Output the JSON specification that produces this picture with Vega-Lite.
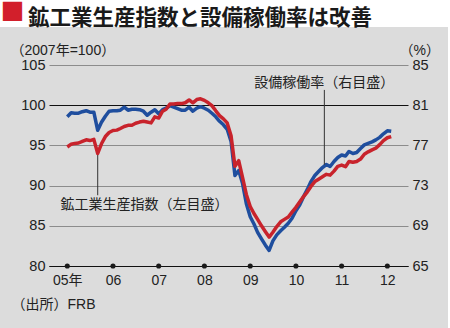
{
  "$schema": "https://vega.github.io/schema/vega-lite/v6.json",
  "width": 448,
  "height": 301,
  "autosize": {"type": "none"},
  "padding": {"left": 0, "top": 27, "right": 2, "bottom": 0},
  "background": "#ffffff",
  "config": {"view": {"fill": "#dcdcdc", "stroke": null}, "font": "Liberation Sans"},
  "title": {
    "text": "鉱工業生産指数と設備稼働率は改善",
    "anchor": "start",
    "frame": "group",
    "orient": "top",
    "dx": 28,
    "offset": -29,
    "font": "Noto Sans CJK JP",
    "fontSize": 21.5,
    "fontWeight": "bold",
    "color": "#1a1a1a"
  },
  "datasets": {
    "series": [
      {"d":"2005-01","ip":94.8,"cu":79.85},
      {"d":"2005-02","ip":95.15,"cu":80.25},
      {"d":"2005-03","ip":95.25,"cu":80.2},
      {"d":"2005-04","ip":95.3,"cu":80.2},
      {"d":"2005-05","ip":95.5,"cu":80.35},
      {"d":"2005-06","ip":95.7,"cu":80.45},
      {"d":"2005-07","ip":95.6,"cu":80.3},
      {"d":"2005-08","ip":95.75,"cu":80.3},
      {"d":"2005-09","ip":94.0,"cu":78.5},
      {"d":"2005-10","ip":95.2,"cu":79.3},
      {"d":"2005-11","ip":96.1,"cu":79.9},
      {"d":"2005-12","ip":96.6,"cu":80.4},
      {"d":"2006-01","ip":96.85,"cu":80.45},
      {"d":"2006-02","ip":96.9,"cu":80.45},
      {"d":"2006-03","ip":97.1,"cu":80.5},
      {"d":"2006-04","ip":97.35,"cu":80.8},
      {"d":"2006-05","ip":97.5,"cu":80.5},
      {"d":"2006-06","ip":97.5,"cu":80.6},
      {"d":"2006-07","ip":97.75,"cu":80.6},
      {"d":"2006-08","ip":97.9,"cu":80.55},
      {"d":"2006-09","ip":98.0,"cu":80.4},
      {"d":"2006-10","ip":97.9,"cu":80.0},
      {"d":"2006-11","ip":97.8,"cu":80.3},
      {"d":"2006-12","ip":98.55,"cu":80.55},
      {"d":"2007-01","ip":98.4,"cu":80.15},
      {"d":"2007-02","ip":99.25,"cu":80.55},
      {"d":"2007-03","ip":99.5,"cu":80.7},
      {"d":"2007-04","ip":100.15,"cu":80.95},
      {"d":"2007-05","ip":100.15,"cu":80.8},
      {"d":"2007-06","ip":100.2,"cu":80.65},
      {"d":"2007-07","ip":100.2,"cu":80.5},
      {"d":"2007-08","ip":100.3,"cu":80.5},
      {"d":"2007-09","ip":100.65,"cu":80.8},
      {"d":"2007-10","ip":100.3,"cu":80.4},
      {"d":"2007-11","ip":100.7,"cu":80.7},
      {"d":"2007-12","ip":100.8,"cu":80.85},
      {"d":"2008-01","ip":100.6,"cu":80.7},
      {"d":"2008-02","ip":100.3,"cu":80.5},
      {"d":"2008-03","ip":99.95,"cu":80.2},
      {"d":"2008-04","ip":99.3,"cu":79.85},
      {"d":"2008-05","ip":98.7,"cu":79.4},
      {"d":"2008-06","ip":98.3,"cu":79.05},
      {"d":"2008-07","ip":97.8,"cu":78.6},
      {"d":"2008-08","ip":96.2,"cu":77.4},
      {"d":"2008-09","ip":92.4,"cu":74.0},
      {"d":"2008-10","ip":93.1,"cu":74.5},
      {"d":"2008-11","ip":91.0,"cu":73.2},
      {"d":"2008-12","ip":88.9,"cu":71.2},
      {"d":"2009-01","ip":87.4,"cu":69.9},
      {"d":"2009-02","ip":86.5,"cu":69.15},
      {"d":"2009-03","ip":85.8,"cu":68.35},
      {"d":"2009-04","ip":85.0,"cu":67.7},
      {"d":"2009-05","ip":84.3,"cu":67.1},
      {"d":"2009-06","ip":83.6,"cu":66.55},
      {"d":"2009-07","ip":84.2,"cu":67.5},
      {"d":"2009-08","ip":84.9,"cu":68.1},
      {"d":"2009-09","ip":85.5,"cu":68.5},
      {"d":"2009-10","ip":85.8,"cu":68.85},
      {"d":"2009-11","ip":86.1,"cu":69.25},
      {"d":"2009-12","ip":86.7,"cu":69.75},
      {"d":"2010-01","ip":87.3,"cu":70.5},
      {"d":"2010-02","ip":88.0,"cu":71.1},
      {"d":"2010-03","ip":88.6,"cu":71.85},
      {"d":"2010-04","ip":89.2,"cu":72.6},
      {"d":"2010-05","ip":89.9,"cu":73.4},
      {"d":"2010-06","ip":90.5,"cu":74.0},
      {"d":"2010-07","ip":90.8,"cu":74.4},
      {"d":"2010-08","ip":91.1,"cu":74.8},
      {"d":"2010-09","ip":91.4,"cu":75.1},
      {"d":"2010-10","ip":91.3,"cu":74.9},
      {"d":"2010-11","ip":91.8,"cu":75.4},
      {"d":"2010-12","ip":92.4,"cu":75.8},
      {"d":"2011-01","ip":92.55,"cu":76.05},
      {"d":"2011-02","ip":92.35,"cu":75.95},
      {"d":"2011-03","ip":93.0,"cu":76.4},
      {"d":"2011-04","ip":92.9,"cu":76.2},
      {"d":"2011-05","ip":93.0,"cu":76.3},
      {"d":"2011-06","ip":93.3,"cu":76.7},
      {"d":"2011-07","ip":93.9,"cu":77.05},
      {"d":"2011-08","ip":94.2,"cu":77.2},
      {"d":"2011-09","ip":94.45,"cu":77.35},
      {"d":"2011-10","ip":94.65,"cu":77.55},
      {"d":"2011-11","ip":95.1,"cu":77.8},
      {"d":"2011-12","ip":95.6,"cu":78.15},
      {"d":"2012-01","ip":95.95,"cu":78.45},
      {"d":"2012-02","ip":96.1,"cu":78.4}
    ],
    "ticks": [
      {"d":"2005-01"},{"d":"2006-01"},{"d":"2007-01"},{"d":"2008-01"},
      {"d":"2009-01"},{"d":"2010-01"},{"d":"2011-01"},{"d":"2012-01"}
    ],
    "leaders": [
      {"d":"2010-08-16","y":101.9,"y2":92.6},
      {"d":"2005-09-01","y":93.8,"y2":88.8}
    ],
    "notes": [
      {"d":"2010-08-16","y":102.8,"t":"設備稼働率（右目盛）"},
      {"d":"2006-09-10","y":87.6,"t":"鉱工業生産指数（左目盛）"}
    ]
  },
  "layer": [
    {
      "data": {"name": "series"},
      "mark": {"type": "line", "color": "#1f4e9e", "strokeWidth": 3.5, "strokeJoin": "round"},
      "encoding": {
        "x": {
          "field": "d", "type": "temporal",
          "scale": {"domain": [{"year": 2004, "month": 8, "date": 8}, {"year": 2012, "month": 6, "date": 14}], "range": [49, 408]},
          "axis": {
            "orient": "bottom", "offset": -62,
            "values": [{"year":2005,"month":1,"date":1},{"year":2006,"month":1,"date":1},{"year":2007,"month":1,"date":1},{"year":2008,"month":1,"date":1},{"year":2009,"month":1,"date":1},{"year":2010,"month":1,"date":1},{"year":2011,"month":1,"date":1},{"year":2012,"month":1,"date":1}],
            "format": "%y",
            "labelExpr": "datum.label == '05' ? '05年' : datum.label",
            "domainColor": "#111111", "domainWidth": 1.2,
            "ticks": false, "grid": false,
            "labelPadding": 7, "labelFontSize": 14, "labelFont": "Liberation Sans, Noto Sans CJK JP", "labelColor": "#222222",
            "labelFlush": false, "labelOverlap": false, "labelBaseline": "top",
            "title": "（出所）FRB", "titleX": 11, "titleY": 38, "titleAlign": "left", "titleBaseline": "middle",
            "titleFont": "Liberation Sans, Noto Sans CJK JP", "titleFontSize": 14, "titleFontWeight": "normal", "titleColor": "#222222"
          }
        },
        "y": {
          "field": "cu", "type": "quantitative",
          "scale": {"domain": [65, 85], "range": [239, 38], "nice": false, "zero": false},
          "axis": {
            "orient": "right", "offset": -40,
            "values": [65, 69, 73, 77, 81, 85],
            "domain": false, "ticks": false, "grid": false,
            "labelPadding": 4, "labelFontSize": 14.5, "labelFont": "Liberation Sans", "labelColor": "#222222",
            "title": "（%）", "titleAngle": 0, "titleX": -9, "titleY": 23, "titleAlign": "left", "titleBaseline": "middle",
            "titleFont": "Liberation Sans, Noto Sans CJK JP", "titleFontSize": 14, "titleFontWeight": "normal", "titleColor": "#222222"
          }
        }
      }
    },
    {
      "layer": [
        {
          "data": {"name": "series"},
          "mark": {"type": "line", "color": "#c8232c", "strokeWidth": 3.5, "strokeJoin": "round"},
          "encoding": {
            "x": {
              "field": "d", "type": "temporal",
              "axis": {
                "orient": "top", "domain": false, "ticks": false, "labels": false, "grid": false,
                "title": "■", "titleColor": "#d21f2b", "titleFont": "Noto Sans CJK JP", "titleFontSize": 24, "titleFontWeight": "normal",
                "titleX": 0, "titleY": -15, "titleAlign": "left", "titleBaseline": "middle", "titleAngle": 0
              }
            },
            "y": {
              "field": "ip", "type": "quantitative",
              "scale": {"domain": [80, 105], "range": [239, 38], "nice": false, "zero": false},
              "axis": {
                "orient": "left", "offset": -49,
                "values": [80, 85, 90, 95, 100, 105],
                "domain": false, "ticks": false, "grid": true,
                "gridColor": {"condition": {"test": "datum.value === 100 || datum.value === 80", "value": "#111111"}, "value": "#8c8c8c"},
                "gridWidth": 1,
                "labelPadding": 4, "labelFontSize": 14.5, "labelFont": "Liberation Sans", "labelColor": "#222222",
                "title": "（2007年=100）", "titleAngle": 0, "titleX": -39, "titleY": 23, "titleAlign": "left", "titleBaseline": "middle",
                "titleFont": "Liberation Sans, Noto Sans CJK JP", "titleFontSize": 14, "titleFontWeight": "normal", "titleColor": "#222222"
              }
            }
          }
        },
        {
          "data": {"name": "ticks"},
          "mark": {"type": "point", "filled": true, "color": "#1a1a1a", "size": 26, "opacity": 1},
          "encoding": {
            "x": {"field": "d", "type": "temporal"},
            "y": {"datum": 80, "type": "quantitative"}
          }
        },
        {
          "data": {"name": "leaders"},
          "mark": {"type": "rule", "color": "#333333", "strokeWidth": 1},
          "encoding": {
            "x": {"field": "d", "type": "temporal"},
            "y": {"field": "y", "type": "quantitative"},
            "y2": {"field": "y2"}
          }
        },
        {
          "data": {"name": "notes"},
          "mark": {"type": "text", "font": "Noto Sans CJK JP", "fontSize": 14, "color": "#222222", "align": "center", "baseline": "middle"},
          "encoding": {
            "x": {"field": "d", "type": "temporal"},
            "y": {"field": "y", "type": "quantitative"},
            "text": {"field": "t"}
          }
        }
      ]
    }
  ],
  "resolve": {"scale": {"y": "independent"}, "axis": {"y": "independent", "x": "independent"}}
}
